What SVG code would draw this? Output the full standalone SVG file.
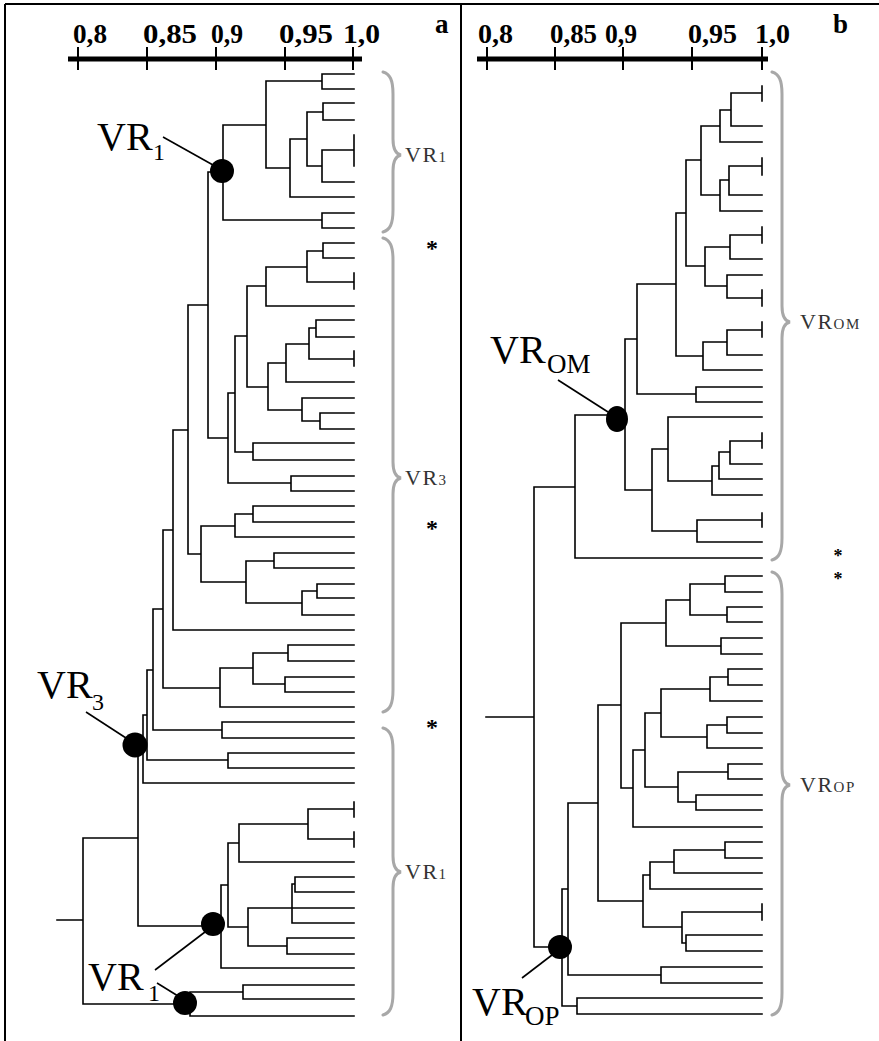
<svg xmlns="http://www.w3.org/2000/svg" width="879" height="1041" viewBox="0 0 879 1041">
<style>
.t{fill:none;stroke:#000;stroke-width:1.6;stroke-linecap:square}
.br{fill:none;stroke:#a8a8a8;stroke-width:3;stroke-linecap:round}
.ax{font-family:"Liberation Serif",serif;font-weight:bold;font-size:27px;fill:#000}
.big{font-family:"Liberation Serif",serif;font-size:40px;fill:#000}
.sub{font-family:"Liberation Serif",serif;font-size:24px;fill:#000}
.sub2{font-family:"Liberation Serif",serif;font-size:27px;fill:#000}
.lb{font-family:"Liberation Serif",serif;font-size:22px;fill:#333;letter-spacing:1.5px}
.lbs{font-family:"Liberation Serif",serif;font-size:15px;fill:#333}
.ast{font-family:"Liberation Serif",serif;font-weight:bold;font-size:24px;fill:#000}
.ast2{font-family:"Liberation Serif",serif;font-weight:bold;font-size:18px;fill:#000}
.dot{fill:#000}
.ln{stroke:#000;stroke-width:1.6}
</style>
<rect width="879" height="1041" fill="#fff"/>
<g id="frame" stroke="#000" stroke-width="2" fill="none">
<path d="M5 4H879 M5 4V1041 M461 4V1041"/>
</g>
<g id="axis-a">
<path d="M68 59H362" stroke="#000" stroke-width="5"/>
<path d="M78 47V70 M147 47V70 M216 47V70 M285 47V70 M353 47V70" stroke="#000" stroke-width="2"/>
<text class="ax" x="73" y="43" textLength="34" lengthAdjust="spacingAndGlyphs">0,8</text>
<text class="ax" x="143" y="43" textLength="54" lengthAdjust="spacingAndGlyphs">0,85</text>
<text class="ax" x="211" y="43" textLength="32" lengthAdjust="spacingAndGlyphs">0,9</text>
<text class="ax" x="279" y="43" textLength="54" lengthAdjust="spacingAndGlyphs">0,95</text>
<text class="ax" x="343" y="43" textLength="37" lengthAdjust="spacingAndGlyphs">1,0</text>
<text class="ax" x="435" y="33" font-size="32">a</text>
</g>
<g id="axis-b">
<path d="M477 59H768" stroke="#000" stroke-width="5"/>
<path d="M487 47V70 M555 47V70 M623 47V70 M692 47V70 M762 47V70" stroke="#000" stroke-width="2"/>
<text class="ax" x="478" y="43" textLength="35" lengthAdjust="spacingAndGlyphs">0,8</text>
<text class="ax" x="550" y="43" textLength="47" lengthAdjust="spacingAndGlyphs">0,85</text>
<text class="ax" x="605" y="43" textLength="32" lengthAdjust="spacingAndGlyphs">0,9</text>
<text class="ax" x="688" y="43" textLength="49" lengthAdjust="spacingAndGlyphs">0,95</text>
<text class="ax" x="755" y="43" textLength="35" lengthAdjust="spacingAndGlyphs">1,0</text>
<text class="ax" x="833" y="33" font-size="32">b</text>
</g>
<g id="connectors">
<path class="t" d="M322 74H354 M322 89H354 M322 74V89 M266 81H322
M323 103H354 M323 120H354 M323 103V120 M307 112H323
M354 135V166 M322 150H354
M322 182H354 M322 150V182 M307 166H322
M307 112V166 M290 139H307
M290 139V197 M290 197H354 M266 168H290
M266 81V168 M223 125H266
M322 213H354 M322 228H354 M322 213V228 M223 220H322
M223 125V220 M208 172H223
M323 243H354 M323 258H354 M323 243V258 M307 251H323
M354 273V289 M307 282H354
M307 251V282 M266 267H307
M266 267V306 M266 306H354 M247 286H266
M316 320H354 M316 337H354 M316 320V337 M309 328H316
M354 351V366 M309 359H354
M309 328V359 M286 344H309
M286 344V382 M286 382H354 M268 363H286
M320 413H354 M320 429H354 M320 413V429 M302 421H320
M302 398V421 M302 398H354 M268 410H302
M268 363V410 M247 387H268
M247 286V387 M235 336H247
M253 443H354 M253 460H354 M253 443V460 M235 452H253
M235 336V452 M228 393H235
M291 476H354 M291 491H354 M291 476V491 M228 483H291
M228 393V483 M208 438H228
M208 172V438 M188 305H208
M253 506H354 M253 522H354 M253 506V522 M235 514H253
M235 514V537 M235 537H354 M201 526H235
M274 553H354 M274 568H354 M274 553V568 M246 561H274
M317 584H354 M317 598H354 M317 584V598 M302 591H317
M302 591V615 M302 615H354 M246 603H302
M246 561V603 M201 582H246
M201 526V582 M188 554H201
M188 305V554 M173 430H188
M173 430V630 M173 630H354 M163 530H173
M288 645H354 M288 661H354 M288 645V661 M253 653H288
M285 677H354 M285 692H354 M285 677V692 M253 684H285
M253 653V684 M220 668H253
M220 668V707 M220 707H354 M163 688H220
M163 530V688 M153 609H163
M222 722H354 M222 738H354 M222 722V738 M153 730H222
M153 609V730 M147 670H153
M228 753H354 M228 768H354 M228 753V768 M147 760H228
M147 670V760 M143 715H147
M143 715V783 M143 783H354 M138 749H143
M354 802V817 M308 809H354
M354 832V847 M308 839H354
M308 809V839 M239 824H308
M239 824V862 M239 862H354 M228 843H239
M295 877H354 M295 892H354 M295 877V892 M292 884H295
M292 884V923 M292 923H354 M248 908H354
M287 938H354 M287 954H354 M287 938V954 M248 946H287
M248 908V946 M228 927H248
M228 843V927 M221 885H228
M221 885V968 M221 968H354 M138 926H221
M243 985H354 M243 999H354 M243 985V999 M190 992H243
M190 992V1016 M190 1016H354 M83 1004H190
M138 749V926 M83 838H138
M83 838V1004 M57 920H83"/>
<path class="t" d="M762 86V101 M731 93H762
M731 126H762
M731 93V126 M720 110H731
M720 110V142 M720 142H762 M701 126H720
M762 158V175 M729 166H762
M729 166V195 M729 195H762 M720 180H729
M720 180V211 M720 211H762 M701 195H720
M701 126V195 M686 160H701
M762 227V243 M730 235H762
M730 235V259 M730 259H762 M705 247H730
M762 290V306 M727 298H762
M727 275V298 M727 275H762 M705 286H727
M705 247V286 M686 266H705
M686 160V266 M676 213H686
M762 322V337 M727 330H762
M727 330V355 M727 355H762 M703 342H727
M703 342V370 M703 370H762 M676 356H703
M676 213V356 M637 284H676
M696 387H762 M696 402H762 M696 387V402 M637 394H696
M637 284V394 M625 339H637
M762 433V448 M730 441H762
M730 441V464 M730 464H762 M719 452H730
M719 452V479 M719 479H762 M712 466H719
M712 466V495 M712 495H762 M668 481H712
M668 417V481 M668 417H762 M652 449H668
M762 513V527 M697 520H762
M697 520V542 M697 542H762 M652 531H697
M652 449V531 M625 490H652
M625 339V490 M575 415H625
M575 415V558 M575 558H762 M534 487H575
M725 576H762 M725 592H762 M725 576V592 M690 584H725
M727 607H762 M727 622H762 M727 607V622 M690 615H727
M690 584V615 M666 600H690
M721 638H762 M721 654H762 M721 638V654 M666 646H721
M666 600V646 M621 623H666
M728 669H762 M728 685H762 M728 669V685 M710 677H728
M710 677V701 M710 701H762 M661 689H710
M727 717H762 M727 733H762 M727 717V733 M707 725H727
M707 725V748 M707 748H762 M661 737H707
M661 689V737 M645 713H661
M728 764H762 M728 779H762 M728 764V779 M678 772H728
M696 795H762 M696 810H762 M696 795V810 M678 802H696
M678 772V802 M645 787H678
M645 713V787 M633 750H645
M633 750V827 M633 827H762 M621 788H633
M621 623V788 M598 705H621
M725 842H762 M725 858H762 M725 842V858 M674 850H725
M674 850V873 M674 873H762 M650 862H674
M650 862V889 M650 889H762 M643 875H650
M762 904V920 M682 912H762
M686 935H762 M686 951H762 M686 935V951 M682 943H686
M682 912V943 M643 927H682
M643 875V927 M598 901H643
M598 705V901 M568 803H598
M661 967H762 M661 983H762 M661 967V983 M568 975H661
M568 803V975 M562 889H568
M577 998H762 M577 1014H762 M577 998V1014 M562 1006H577
M562 889V1006 M534 947H562
M534 487V947 M486 717H534"/>
</g>
<g id="brackets">
<path class="br" d="M383,72 C390,74 393,80 393,94 L393,139 C393,149 396,154 401,155 C396,156 393,161 393,171 L393,210 C393,224 390,230 383,232"/>
<path class="br" d="M383,238 C390,240 393,246 393,260 L393,462 C393,472 396,477 401,478 C396,479 393,484 393,494 L393,690 C393,704 390,710 383,712"/>
<path class="br" d="M383,728 C390,730 393,736 393,750 L393,856 C393,866 396,871 401,872 C396,873 393,878 393,888 L393,993 C393,1007 390,1013 383,1015"/>
<path class="br" d="M772,72 C779,74 782,80 782,94 L782,306 C782,316 785,321 790,322 C785,323 782,328 782,338 L782,538 C782,552 779,558 772,560"/>
<path class="br" d="M772,572 C779,574 782,580 782,594 L782,769 C782,779 785,784 790,785 C785,786 782,791 782,801 L782,993 C782,1007 779,1013 772,1015"/>
<text class="lb" x="405" y="162">VR<tspan class="lbs">1</tspan></text>
<text class="lb" x="405" y="485">VR<tspan class="lbs">3</tspan></text>
<text class="lb" x="405" y="879">VR<tspan class="lbs">1</tspan></text>
<text class="lb" x="800" y="329">VR<tspan class="lbs">OM</tspan></text>
<text class="lb" x="800" y="792">VR<tspan class="lbs">OP</tspan></text>
<text class="ast" x="432" y="256" text-anchor="middle">*</text>
<text class="ast" x="432" y="536" text-anchor="middle">*</text>
<text class="ast" x="432" y="735" text-anchor="middle">*</text>
<text class="ast2" x="838" y="562" text-anchor="middle">*</text>
<text class="ast2" x="838" y="585" text-anchor="middle">*</text>
</g>
<g id="node-vr1-top">
<line class="ln" x1="163" y1="137" x2="213" y2="165"/>
<circle class="dot" cx="222" cy="171" r="12"/>
<text class="big" x="97" y="150">VR</text><text class="sub" x="153" y="160">1</text>
</g>
<g id="node-vr3">
<line class="ln" x1="86" y1="712" x2="126" y2="738"/>
<circle class="dot" cx="135" cy="745" r="12.5"/>
<text class="big" x="37" y="698">VR</text><text class="sub" x="92" y="710">3</text>
</g>
<g id="node-vr1-bottom">
<line class="ln" x1="155" y1="970" x2="205" y2="932"/>
<line class="ln" x1="157" y1="983" x2="178" y2="996"/>
<circle class="dot" cx="213" cy="924" r="12"/>
<circle class="dot" cx="185" cy="1003" r="12"/>
<text class="big" x="88" y="990">VR</text><text class="sub" x="148" y="1001">1</text>
</g>
<g id="node-vrom">
<line class="ln" x1="558" y1="380" x2="608" y2="412"/>
<ellipse class="dot" cx="617" cy="419" rx="11" ry="13"/>
<text class="big" x="490" y="363">VR</text><text class="sub2" x="547" y="373">OM</text>
</g>
<g id="node-vrop">
<line class="ln" x1="522" y1="978" x2="552" y2="955"/>
<circle class="dot" cx="560" cy="947" r="12"/>
<text class="big" x="472" y="1015">VR</text><text class="sub2" x="525" y="1025">OP</text>
</g>
</svg>
